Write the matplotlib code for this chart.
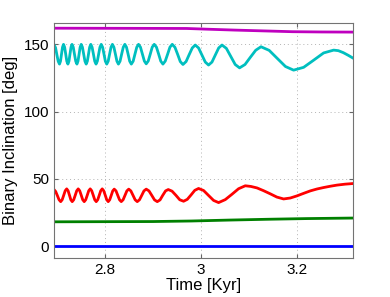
import numpy as np
import matplotlib
matplotlib.use("Agg")
import matplotlib.pyplot as plt
from matplotlib.ticker import FormatStrFormatter

plt.rcParams['font.family'] = ['Liberation Sans', 'DejaVu Sans']

# time [Kyr] and inclination [deg]
t_blue = [2.694, 3.318]
inc_blue = [0.0, 0.0]

t_green = [2.694, 2.90, 2.98, 3.06, 3.14, 3.22, 3.318]
inc_green = [18.0, 18.2, 18.6, 19.3, 19.9, 20.4, 20.8]

t_red = [2.6940, 2.6975, 2.7010, 2.7045,
         2.7079, 2.7110, 2.7142, 2.7173,
         2.7204, 2.7233, 2.7262, 2.7290,
         2.7319, 2.7350, 2.7382, 2.7413,
         2.7444, 2.7475, 2.7507, 2.7538,
         2.7569, 2.7600, 2.7632, 2.7663,
         2.7694, 2.7725, 2.7757, 2.7788,
         2.7819, 2.7850, 2.7882, 2.7913,
         2.7944, 2.7975, 2.8007, 2.8038,
         2.8069, 2.8100, 2.8132, 2.8163,
         2.8194, 2.8231, 2.8267, 2.8304,
         2.8340, 2.8379, 2.8418, 2.8457,
         2.8496, 2.8540, 2.8585, 2.8629,
         2.8673, 2.8720, 2.8767, 2.8813,
         2.8860, 2.8917, 2.8975, 2.9033,
         2.9090, 2.9148, 2.9204, 2.9263,
         2.9319, 2.9398, 2.9479, 2.9558,
         2.9638, 2.9715, 2.9794, 2.9871,
         2.9950, 3.0054, 3.0158, 3.0263,
         3.0367, 3.0506, 3.0646, 3.0783,
         3.0923, 3.1040, 3.1167, 3.1300,
         3.1444, 3.1580, 3.1721, 3.1860,
         3.2000, 3.2140, 3.2277, 3.2415,
         3.2554, 3.2700, 3.2833, 3.3000, 3.3179]
inc_red = [42.0, 40.5, 37.5, 34.4,
           33.0, 34.4, 37.75, 41.1,
           42.5, 41.1, 37.75, 34.4,
           33.0, 34.4, 37.75, 41.1,
           42.5, 41.1, 37.75, 34.4,
           33.0, 34.4, 37.75, 41.1,
           42.5, 41.1, 37.75, 34.4,
           33.0, 34.4, 37.75, 41.1,
           42.5, 41.1, 37.75, 34.4,
           33.0, 34.4, 37.7, 41.0,
           42.3, 41.0, 37.7, 34.4,
           33.0, 34.4, 37.7, 41.0,
           42.3, 41.0, 37.7, 34.4,
           33.0, 34.4, 37.7, 41.0,
           42.3, 41.0, 37.7, 34.3,
           33.0, 34.3, 37.7, 41.0,
           42.0, 40.8, 37.7, 34.4,
           33.3, 34.7, 38.0, 41.4,
           42.8, 41.3, 37.6, 33.9,
           32.3, 34.5, 38.5, 42.6,
           44.8, 44.3, 43.2, 41.2,
           38.8, 36.4, 35.0, 35.7,
           37.3, 39.2, 41.0, 42.4,
           43.5, 44.5, 45.3, 46.0, 46.5]

t_cyan = [2.6944, 2.6972, 2.6999, 2.7027,
          2.7054, 2.7075, 2.7096, 2.7117,
          2.7138, 2.7161, 2.7184, 2.7206,
          2.7229, 2.7251, 2.7272, 2.7294,
          2.7315, 2.7341, 2.7366, 2.7392,
          2.7417, 2.7439, 2.7462, 2.7484,
          2.7506, 2.7532, 2.7558, 2.7584,
          2.7610, 2.7634, 2.7658, 2.7682,
          2.7706, 2.7733, 2.7761, 2.7788,
          2.7815, 2.7842, 2.7869, 2.7896,
          2.7923, 2.7952, 2.7981, 2.8009,
          2.8038, 2.8068, 2.8097, 2.8127,
          2.8156, 2.8187, 2.8219, 2.8250,
          2.8281, 2.8315, 2.8348, 2.8382,
          2.8415, 2.8449, 2.8483, 2.8516,
          2.8550, 2.8588, 2.8625, 2.8663,
          2.8700, 2.8740, 2.8781, 2.8821,
          2.8860, 2.8902, 2.8944, 2.8985,
          2.9027, 2.9073, 2.9119, 2.9163,
          2.9208, 2.9256, 2.9306, 2.9354,
          2.9402, 2.9458, 2.9515, 2.9569,
          2.9625, 2.9690, 2.9754, 2.9819,
          2.9881, 2.9950, 3.0021, 3.0090,
          3.0158, 3.0229, 3.0298, 3.0369,
          3.0438, 3.0529, 3.0621, 3.0713,
          3.0804, 3.0917, 3.1027, 3.1140,
          3.1250, 3.1421, 3.1590, 3.1760,
          3.1929, 3.2138, 3.2346, 3.2554,
          3.2763, 3.2860, 3.2965, 3.3069, 3.3179]
inc_cyan = [149.5, 147.5, 142.4, 137.4,
            135.3, 137.45, 142.65, 147.85,
            150.0, 147.85, 142.65, 137.45,
            135.3, 137.45, 142.65, 147.85,
            150.0, 147.85, 142.65, 137.45,
            135.3, 137.45, 142.65, 147.85,
            150.0, 147.85, 142.65, 137.45,
            135.3, 137.45, 142.65, 147.85,
            150.0, 147.85, 142.65, 137.45,
            135.3, 137.45, 142.65, 147.85,
            150.0, 147.85, 142.65, 137.45,
            135.3, 137.45, 142.65, 147.85,
            150.0, 147.85, 142.65, 137.45,
            135.3, 137.45, 142.65, 147.85,
            150.0, 147.85, 142.65, 137.45,
            135.3, 137.45, 142.65, 147.85,
            150.0, 147.9, 142.7, 137.6,
            135.5, 137.6, 142.7, 147.9,
            150.0, 147.9, 142.7, 137.5,
            135.3, 137.5, 142.7, 147.9,
            150.0, 147.8, 142.5, 137.2,
            135.0, 137.2, 142.3, 147.3,
            149.5, 147.3, 142.0, 136.8,
            134.6, 136.8, 142.0, 147.3,
            149.5, 147.0, 141.0, 135.0,
            132.5, 135.0, 140.3, 145.6,
            148.2, 145.5, 139.5, 133.5,
            130.8, 132.9, 138.2, 143.6,
            145.7, 145.3, 143.8, 141.8, 139.5]

t_mag = [2.694, 2.85, 2.97, 3.01, 3.07, 3.13, 3.19, 3.25, 3.318]
inc_mag = [162.0, 161.9, 161.8, 161.3, 160.6, 160.0, 159.4, 159.2, 159.1]

fig = plt.figure(figsize=(3.9, 2.97), dpi=100)
ax = fig.add_axes([0.1385, 0.1323, 0.7659, 0.7913])

lw = 2.0
ax.plot(t_blue, inc_blue, color=(0, 0, 1), lw=lw)
ax.plot(t_green, inc_green, color=(0, 0.5, 0), lw=lw)
ax.plot(t_red, inc_red, color=(1, 0, 0), lw=lw)
ax.plot(t_cyan, inc_cyan, color=(0, 0.75, 0.75), lw=lw)
ax.plot(t_mag, inc_mag, color=(0.75, 0, 0.75), lw=lw)

ax.set_xlim(2.694, 3.316)
ax.set_ylim(-8.7, 166.1)
ax.set_xticks([2.8, 3.0, 3.2])
ax.set_yticks([0, 50, 100, 150])
ax.xaxis.set_major_formatter(FormatStrFormatter('%g'))

ax.grid(True, linestyle=(0, (1, 3)), color='0.7', linewidth=0.7)
ax.tick_params(direction='in', top=True, right=True, labelsize=11,
               length=3, color='0.4')
for s in ax.spines.values():
    s.set_color('0.45')

ax.set_xlabel("Time [Kyr]", fontsize=12, labelpad=1)
ax.set_ylabel("Binary Inclination [deg]", fontsize=12, labelpad=4)

fig.savefig("out.png", dpi=100)
